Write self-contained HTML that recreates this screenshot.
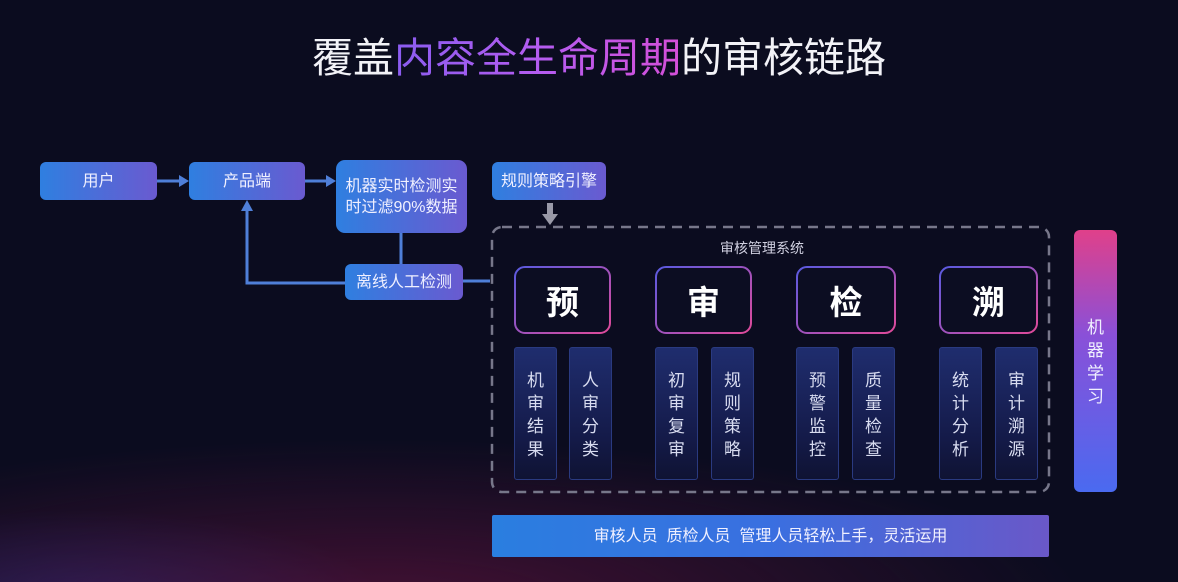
<!DOCTYPE html>
<html><head><meta charset="utf-8">
<style>
*{margin:0;padding:0;box-sizing:border-box}
body{width:1178px;height:582px;overflow:hidden;position:relative;font-family:"Liberation Sans","Noto Sans CJK SC",sans-serif;
background:radial-gradient(ellipse 700px 160px at 380px 600px,rgba(120,20,70,0.5),transparent),radial-gradient(ellipse 300px 90px at 80px 600px,rgba(30,50,140,0.5),transparent),#0b0c1f;}
.a{position:absolute}
.title{left:10px;width:1178px;top:33px;text-align:center;font-size:41px;color:#f2f2f7;line-height:50px}
.g{background:linear-gradient(90deg,#8a5cf0,#b45cf0,#d44fd8);-webkit-background-clip:text;background-clip:text;color:transparent}
.box{position:absolute;border-radius:6px;background:linear-gradient(90deg,#2f7fe0,#6a5ad0);color:#f0f0ff;font-size:16px;display:flex;align-items:center;justify-content:center;text-align:center;line-height:21px}
.col{position:absolute;top:347px;height:133px;width:43px;border-radius:3px;background:linear-gradient(180deg,#1f2d6e,#141a48 70%,#0f1333);border:1px solid #2a3a80;color:#d8dcf0;font-size:17px;line-height:23px;text-align:center;padding-top:21px}
.bg{position:absolute;top:267px;height:66px;display:flex;align-items:center;justify-content:center;color:#fff;font-size:33px;font-weight:bold}
</style></head><body>
<div class="a title">覆盖<span class="g">内容全生命周期</span>的审核链路</div>

<svg class="a" style="left:0;top:0" width="1178" height="582">
<defs><linearGradient id="bb" x1="0" y1="0" x2="1" y2="1"><stop offset="0" stop-color="#5a5ae0"/><stop offset="1" stop-color="#e04a9a"/></linearGradient></defs>
<g stroke="#4f7fd8" stroke-width="3" fill="#4f7fd8">
<line x1="157" y1="181" x2="181" y2="181"/><polygon points="189,181 179,175 179,187" stroke="none"/>
<line x1="305" y1="181" x2="328" y2="181"/><polygon points="336,181 326,175 326,187" stroke="none"/>
<line x1="401" y1="233" x2="401" y2="264" fill="none"/>
<polyline points="345,283 247,283 247,210" fill="none"/><polygon points="247,200 241,211 253,211" stroke="none"/>
<line x1="463" y1="281" x2="490" y2="281"/>
</g>
<g fill="#9a9aa8"><rect x="547" y="203" width="6" height="12"/><polygon points="542,214 558,214 550,225"/></g>
<rect x="492" y="227" width="557" height="265" rx="10" fill="none" stroke="#77778a" stroke-width="2.5" stroke-dasharray="10,7"/>
<g fill="#0c0d22" stroke="url(#bb)" stroke-width="2">
<rect x="515" y="267" width="95" height="66" rx="10"/>
<rect x="656" y="267" width="95" height="66" rx="10"/>
<rect x="797" y="267" width="98" height="66" rx="10"/>
<rect x="940" y="267" width="97" height="66" rx="10"/>
</g>
</svg>

<div class="box" style="left:40px;top:162px;width:117px;height:38px">用户</div>
<div class="box" style="left:189px;top:162px;width:116px;height:38px">产品端</div>
<div class="box" style="left:336px;top:160px;width:131px;height:73px;border-radius:9px">机器实时检测实<br>时过滤90%数据</div>
<div class="box" style="left:492px;top:162px;width:114px;height:38px">规则策略引擎</div>
<div class="box" style="left:345px;top:264px;width:118px;height:36px">离线人工检测</div>

<div class="a" style="left:720px;top:238px;font-size:14px;color:#d0d0e0">审核管理系统</div>
<div class="bg" style="left:515px;width:95px">预</div>
<div class="bg" style="left:656px;width:95px">审</div>
<div class="bg" style="left:797px;width:98px">检</div>
<div class="bg" style="left:940px;width:97px">溯</div>

<div class="col" style="left:514px">机<br>审<br>结<br>果</div>
<div class="col" style="left:569px">人<br>审<br>分<br>类</div>
<div class="col" style="left:655px">初<br>审<br>复<br>审</div>
<div class="col" style="left:711px">规<br>则<br>策<br>略</div>
<div class="col" style="left:796px">预<br>警<br>监<br>控</div>
<div class="col" style="left:852px">质<br>量<br>检<br>查</div>
<div class="col" style="left:939px">统<br>计<br>分<br>析</div>
<div class="col" style="left:995px">审<br>计<br>溯<br>源</div>

<div class="a" style="left:1074px;top:230px;width:43px;height:262px;border-radius:6px;background:linear-gradient(180deg,#e0408a,#8a50d8 40%,#4a6af0);color:#f0f0ff;font-size:17px;line-height:23px;text-align:center;padding-top:86px">机<br>器<br>学<br>习</div>

<div class="box" style="left:492px;top:515px;width:557px;height:42px;border-radius:2px;background:linear-gradient(90deg,#2a7ee0,#3a6fe0 50%,#6a58c8);font-size:16px">审核人员&nbsp; 质检人员&nbsp; 管理人员轻松上手，灵活运用</div>
</body></html>
